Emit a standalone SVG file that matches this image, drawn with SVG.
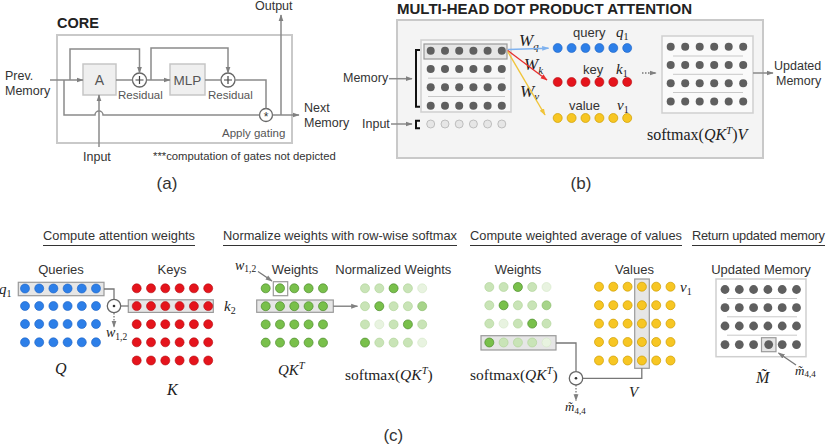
<svg xmlns="http://www.w3.org/2000/svg" width="831" height="447" viewBox="0 0 831 447">
<defs>
<style>
.t{font-family:"Liberation Sans",Arial,sans-serif;fill:#333}
.tb{font-family:"Liberation Sans",Arial,sans-serif;font-weight:bold;fill:#222}
.tg{font-family:"Liberation Sans",Arial,sans-serif;fill:#555}
.m{font-family:"Liberation Serif","Times New Roman",serif;fill:#222}
.i{font-style:italic}
.ln{stroke:#8a8a8a;stroke-width:1.5;fill:none}
.lk{stroke:#777;stroke-width:1.3;fill:none}
.dt{stroke:#777;stroke-width:1.3;fill:none;stroke-dasharray:1.5 1.5}
.box{fill:#efefef;stroke:#c6c6c6;stroke-width:1.5}
.hl{fill:#e6e6e6;stroke:#9a9a9a;stroke-width:1.2}
.hn{fill:none;stroke:#9a9a9a;stroke-width:1.2}
.op{fill:#fff;stroke:#666;stroke-width:1.3}
.dg circle{fill:#5f5f5f}
.di circle{fill:#e6e6e6;stroke:#b3b3b3;stroke-width:0.8}
.db circle{fill:#2d7fe8;stroke:#1b62c4;stroke-width:0.6}
.dr circle{fill:#e5141c;stroke:#b30d12;stroke-width:0.6}
.dy circle{fill:#f7c623;stroke:#cf9e00;stroke-width:0.7}
.g0{fill:#79c04b;stroke:#4e8d2c;stroke-width:0.7}
.g1{fill:#a7d48a;stroke:#86b967;stroke-width:0.6}
.g2{fill:#c9e4b7;stroke:#acd194;stroke-width:0.6}
.g3{fill:#e8f3e0;stroke:#d3e7c6;stroke-width:0.6}
.sep{stroke:#c8c8c8;stroke-width:1}
.ul{stroke:#333;stroke-width:1.2}
</style>
<marker id="ag" viewBox="0 0 10 10" refX="9" refY="5" markerWidth="7" markerHeight="7" markerUnits="userSpaceOnUse" orient="auto"><path d="M0,1.5L10,5L0,8.5z" fill="#808080"/></marker>
<marker id="ab" viewBox="0 0 10 10" refX="9" refY="5" markerWidth="7" markerHeight="7" markerUnits="userSpaceOnUse" orient="auto"><path d="M0,1.5L10,5L0,8.5z" fill="#7fb2ef"/></marker>
<marker id="ar" viewBox="0 0 10 10" refX="9" refY="5" markerWidth="7" markerHeight="7" markerUnits="userSpaceOnUse" orient="auto"><path d="M0,1.5L10,5L0,8.5z" fill="#e8302f"/></marker>
<marker id="ay" viewBox="0 0 10 10" refX="9" refY="5" markerWidth="7" markerHeight="7" markerUnits="userSpaceOnUse" orient="auto"><path d="M0,1.5L10,5L0,8.5z" fill="#f0c43a"/></marker>
</defs>
<rect width="831" height="447" fill="#fff"/>

<!-- ================= Panel (a) ================= -->
<g id="core-panel">
<text class="tb" x="57" y="28" font-size="14.5">CORE</text>
<rect x="57" y="35" width="235" height="108" fill="#fff" stroke="#c9c9c9" stroke-width="2"/>
</g>
<g id="node-A"><rect class="box" x="83" y="64" width="33" height="31"/><text class="tg" x="99.5" y="85" font-size="14" text-anchor="middle">A</text></g>
<g id="node-MLP"><rect class="box" x="170" y="64" width="35" height="31"/><text class="tg" x="187.5" y="85" font-size="13.5" text-anchor="middle">MLP</text></g>
<g id="node-plus1"><circle class="op" cx="139.5" cy="80" r="7"/><path d="M135.5,80H143.5M139.5,76V84" stroke="#444" stroke-width="1.2"/><text class="tg" x="118" y="99" font-size="11.5">Residual</text></g>
<g id="node-plus2"><circle class="op" cx="228" cy="80" r="7"/><path d="M224,80H232M228,76V84" stroke="#444" stroke-width="1.2"/><text class="tg" x="208" y="99" font-size="11.5">Residual</text></g>
<g id="node-gate"><circle class="op" cx="266" cy="115" r="6.5"/><text class="t" x="266" y="121" font-size="12" text-anchor="middle">*</text><text class="tg" x="222" y="137" font-size="11.5">Apply gating</text></g>
<g id="labels-a">
<text class="t" x="5" y="80" font-size="12.5">Prev.</text>
<text class="t" x="5" y="95" font-size="12.5">Memory</text>
<text class="t" x="255" y="10" font-size="12.5">Output</text>
<text class="t" x="304" y="112" font-size="12.5">Next</text>
<text class="t" x="304" y="127" font-size="12.5">Memory</text>
<text class="t" x="83" y="161" font-size="12.5">Input</text>
<text class="t" x="153" y="160" font-size="11.3" fill="#444">***computation of gates not depicted</text>
<text class="t" x="167" y="189" font-size="17" text-anchor="middle">(a)</text>
</g>

<!-- ================= Panel (b) ================= -->
<g id="mhdpa-panel">
<text class="tb" x="397" y="13.5" font-size="14.5" textLength="295" lengthAdjust="spacingAndGlyphs">MULTI-HEAD DOT PRODUCT ATTENTION</text>
<rect x="397" y="20" width="366" height="138" fill="#f4f4f4" stroke="#c9c9c9" stroke-width="2"/>
</g>
<g id="node-memory-matrix">
<rect x="421" y="40" width="90" height="72" fill="#f7f7f7" stroke="#cfcfcf" stroke-width="1.5"/>
<rect class="hl" x="424" y="44" width="83" height="15" fill="#dcdcdc"/>
<line class="sep" x1="428" y1="78.2" x2="505" y2="78.2"/>
<line class="sep" x1="428" y1="96.5" x2="505" y2="96.5"/>
<g class="dg">
<circle cx="430.7" cy="50.7" r="4"/><circle cx="445" cy="50.7" r="4"/><circle cx="459.2" cy="50.7" r="4"/><circle cx="473.4" cy="50.7" r="4"/><circle cx="487.6" cy="50.7" r="4"/><circle cx="501.8" cy="50.7" r="4"/>
<circle cx="430.7" cy="69" r="4"/><circle cx="445" cy="69" r="4"/><circle cx="459.2" cy="69" r="4"/><circle cx="473.4" cy="69" r="4"/><circle cx="487.6" cy="69" r="4"/><circle cx="501.8" cy="69" r="4"/>
<circle cx="430.7" cy="87.3" r="4"/><circle cx="445" cy="87.3" r="4"/><circle cx="459.2" cy="87.3" r="4"/><circle cx="473.4" cy="87.3" r="4"/><circle cx="487.6" cy="87.3" r="4"/><circle cx="501.8" cy="87.3" r="4"/>
<circle cx="430.7" cy="105.7" r="4"/><circle cx="445" cy="105.7" r="4"/><circle cx="459.2" cy="105.7" r="4"/><circle cx="473.4" cy="105.7" r="4"/><circle cx="487.6" cy="105.7" r="4"/><circle cx="501.8" cy="105.7" r="4"/>
</g>
<g class="di">
<circle cx="430.7" cy="124" r="4"/><circle cx="445" cy="124" r="4"/><circle cx="459.2" cy="124" r="4"/><circle cx="473.4" cy="124" r="4"/><circle cx="487.6" cy="124" r="4"/><circle cx="501.8" cy="124" r="4"/>
</g>
<path d="M420,50H416V106.7H420" fill="none" stroke="#111" stroke-width="2"/>
<path d="M420,120.7H416V128.3H420" fill="none" stroke="#111" stroke-width="2"/>
<text class="t" x="343" y="82" font-size="12.5">Memory</text>
<text class="t" x="362" y="127.5" font-size="12.5">Input</text>
</g>
<g id="node-qkv">
<g class="db"><circle cx="557.7" cy="48" r="4.5"/><circle cx="571.6" cy="48" r="4.5"/><circle cx="585.5" cy="48" r="4.5"/><circle cx="599.4" cy="48" r="4.5"/><circle cx="613.3" cy="48" r="4.5"/><circle cx="627.2" cy="48" r="4.5"/></g>
<g class="dr"><circle cx="557.7" cy="82" r="4.5"/><circle cx="571.6" cy="82" r="4.5"/><circle cx="585.5" cy="82" r="4.5"/><circle cx="599.4" cy="82" r="4.5"/><circle cx="613.3" cy="82" r="4.5"/><circle cx="627.2" cy="82" r="4.5"/></g>
<g class="dy"><circle cx="557.7" cy="118" r="4.5"/><circle cx="571.6" cy="118" r="4.5"/><circle cx="585.5" cy="118" r="4.5"/><circle cx="599.4" cy="118" r="4.5"/><circle cx="613.3" cy="118" r="4.5"/><circle cx="627.2" cy="118" r="4.5"/></g>
<text class="t" x="573" y="37" font-size="13">query</text>
<text class="t" x="583" y="74" font-size="13">key</text>
<text class="t" x="569" y="110" font-size="13">value</text>
<text class="m i" x="616" y="37" font-size="15">q<tspan font-size="10" dy="3" font-style="normal">1</tspan></text>
<text class="m i" x="616" y="74" font-size="15">k<tspan font-size="10" dy="3" font-style="normal">1</tspan></text>
<text class="m i" x="617" y="110" font-size="15">v<tspan font-size="10" dy="3" font-style="normal">1</tspan></text>
<text class="m i" x="519" y="46" font-size="17">W<tspan font-size="11" dy="3.5">q</tspan></text>
<text class="m i" x="524" y="70" font-size="17">W<tspan font-size="11" dy="3.5">k</tspan></text>
<text class="m i" x="520" y="96.5" font-size="17">W<tspan font-size="11" dy="3.5">v</tspan></text>
</g>
<g id="node-updated-b">
<rect x="662" y="36" width="91" height="77" fill="#fafafa" stroke="#cfcfcf" stroke-width="1.5"/>
<line class="sep" x1="673" y1="56" x2="743" y2="56"/>
<line class="sep" x1="673" y1="74.3" x2="743" y2="74.3"/>
<line class="sep" x1="673" y1="92.5" x2="743" y2="92.5"/>
<g class="dg">
<circle cx="670.7" cy="46.7" r="4"/><circle cx="685.2" cy="46.7" r="4"/><circle cx="699.7" cy="46.7" r="4"/><circle cx="714.2" cy="46.7" r="4"/><circle cx="728.7" cy="46.7" r="4"/><circle cx="743.2" cy="46.7" r="4"/>
<circle cx="670.7" cy="65" r="4"/><circle cx="685.2" cy="65" r="4"/><circle cx="699.7" cy="65" r="4"/><circle cx="714.2" cy="65" r="4"/><circle cx="728.7" cy="65" r="4"/><circle cx="743.2" cy="65" r="4"/>
<circle cx="670.7" cy="83.3" r="4"/><circle cx="685.2" cy="83.3" r="4"/><circle cx="699.7" cy="83.3" r="4"/><circle cx="714.2" cy="83.3" r="4"/><circle cx="728.7" cy="83.3" r="4"/><circle cx="743.2" cy="83.3" r="4"/>
<circle cx="670.7" cy="101.6" r="4"/><circle cx="685.2" cy="101.6" r="4"/><circle cx="699.7" cy="101.6" r="4"/><circle cx="714.2" cy="101.6" r="4"/><circle cx="728.7" cy="101.6" r="4"/><circle cx="743.2" cy="101.6" r="4"/>
</g>
<text class="m" x="647" y="140" font-size="16">softmax(<tspan class="i">QK</tspan><tspan class="i" font-size="11" dy="-6">T</tspan><tspan dy="6">)</tspan><tspan class="i">V</tspan></text>
<text class="t" x="774" y="70" font-size="12.5">Updated</text>
<text class="t" x="776" y="85" font-size="12.5">Memory</text>
<text class="t" x="581" y="189" font-size="17" text-anchor="middle">(b)</text>
</g>

<!-- ================= Panel (c) ================= -->
<g id="sec-attention-weights">
<text class="t" x="43" y="240" font-size="12.8" textLength="152">Compute attention weights</text>
<line class="ul" x1="43" y1="245.5" x2="195" y2="245.5"/>
<text class="t" x="61" y="273.5" font-size="13" text-anchor="middle">Queries</text>
<text class="t" x="172" y="273.5" font-size="13" text-anchor="middle">Keys</text>
<rect class="hl" x="18.3" y="282.3" width="85.7" height="13.4"/>
<rect class="hl" x="128.3" y="299.8" width="85" height="12.6"/>
<g class="db">
<circle cx="25" cy="288.5" r="4.5"/><circle cx="39.2" cy="288.5" r="4.5"/><circle cx="53.4" cy="288.5" r="4.5"/><circle cx="67.6" cy="288.5" r="4.5"/><circle cx="81.8" cy="288.5" r="4.5"/><circle cx="96" cy="288.5" r="4.5"/>
<circle cx="25" cy="306" r="4.5"/><circle cx="39.2" cy="306" r="4.5"/><circle cx="53.4" cy="306" r="4.5"/><circle cx="67.6" cy="306" r="4.5"/><circle cx="81.8" cy="306" r="4.5"/><circle cx="96" cy="306" r="4.5"/>
<circle cx="25" cy="324" r="4.5"/><circle cx="39.2" cy="324" r="4.5"/><circle cx="53.4" cy="324" r="4.5"/><circle cx="67.6" cy="324" r="4.5"/><circle cx="81.8" cy="324" r="4.5"/><circle cx="96" cy="324" r="4.5"/>
<circle cx="25" cy="342.3" r="4.5"/><circle cx="39.2" cy="342.3" r="4.5"/><circle cx="53.4" cy="342.3" r="4.5"/><circle cx="67.6" cy="342.3" r="4.5"/><circle cx="81.8" cy="342.3" r="4.5"/><circle cx="96" cy="342.3" r="4.5"/>
</g>
<g class="dr">
<circle cx="136.7" cy="288.3" r="4.5"/><circle cx="151" cy="288.3" r="4.5"/><circle cx="165.3" cy="288.3" r="4.5"/><circle cx="179.6" cy="288.3" r="4.5"/><circle cx="193.9" cy="288.3" r="4.5"/><circle cx="208.2" cy="288.3" r="4.5"/>
<circle cx="136.7" cy="306.1" r="4.5"/><circle cx="151" cy="306.1" r="4.5"/><circle cx="165.3" cy="306.1" r="4.5"/><circle cx="179.6" cy="306.1" r="4.5"/><circle cx="193.9" cy="306.1" r="4.5"/><circle cx="208.2" cy="306.1" r="4.5"/>
<circle cx="136.7" cy="324.2" r="4.5"/><circle cx="151" cy="324.2" r="4.5"/><circle cx="165.3" cy="324.2" r="4.5"/><circle cx="179.6" cy="324.2" r="4.5"/><circle cx="193.9" cy="324.2" r="4.5"/><circle cx="208.2" cy="324.2" r="4.5"/>
<circle cx="136.7" cy="342.3" r="4.5"/><circle cx="151" cy="342.3" r="4.5"/><circle cx="165.3" cy="342.3" r="4.5"/><circle cx="179.6" cy="342.3" r="4.5"/><circle cx="193.9" cy="342.3" r="4.5"/><circle cx="208.2" cy="342.3" r="4.5"/>
<circle cx="136.7" cy="360.5" r="4.5"/><circle cx="151" cy="360.5" r="4.5"/><circle cx="165.3" cy="360.5" r="4.5"/><circle cx="179.6" cy="360.5" r="4.5"/><circle cx="193.9" cy="360.5" r="4.5"/><circle cx="208.2" cy="360.5" r="4.5"/>
</g>
<circle class="op" cx="114" cy="306" r="6.7"/><circle cx="114" cy="306" r="1.3" fill="#333"/>
<text class="m i" x="-1" y="294" font-size="15">q<tspan font-size="10" dy="3" font-style="normal">1</tspan></text>
<text class="m i" x="224" y="311" font-size="15">k<tspan font-size="10" dy="3" font-style="normal">2</tspan></text>
<text class="m i" x="106" y="337" font-size="14">w<tspan font-size="9.5" dy="2.5" font-style="normal">1,2</tspan></text>
<text class="m i" x="55" y="374" font-size="16">Q</text>
<text class="m i" x="167" y="395" font-size="16">K</text>
</g>

<g id="sec-normalize">
<text class="t" x="223" y="240" font-size="12.8" textLength="234">Normalize weights with row-wise softmax</text>
<line class="ul" x1="223" y1="245.5" x2="457" y2="245.5"/>
<text class="t" x="295" y="273.5" font-size="13" text-anchor="middle">Weights</text>
<text class="t" x="393.3" y="273.5" font-size="13" text-anchor="middle">Normalized Weights</text>
<text class="m i" x="235" y="269.5" font-size="14">w<tspan font-size="9.5" dy="2.5" font-style="normal">1,2</tspan></text>
<rect class="hl" x="256.7" y="300" width="76.6" height="12.3"/>
<rect class="hn" x="273.3" y="281.7" width="14.4" height="14"/>
<g>
<circle class="g0" cx="265.7" cy="288.3" r="4.5"/><circle class="g0" cx="280" cy="288.3" r="4.5"/><circle class="g0" cx="294.3" cy="288.3" r="4.5"/><circle class="g0" cx="308.6" cy="288.3" r="4.5"/><circle class="g0" cx="323" cy="288.3" r="4.5"/>
<circle class="g0" cx="265.7" cy="306.2" r="4.5"/><circle class="g0" cx="280" cy="306.2" r="4.5"/><circle class="g0" cx="294.3" cy="306.2" r="4.5"/><circle class="g0" cx="308.6" cy="306.2" r="4.5"/><circle class="g0" cx="323" cy="306.2" r="4.5"/>
<circle class="g0" cx="265.7" cy="324.4" r="4.5"/><circle class="g0" cx="280" cy="324.4" r="4.5"/><circle class="g0" cx="294.3" cy="324.4" r="4.5"/><circle class="g0" cx="308.6" cy="324.4" r="4.5"/><circle class="g0" cx="323" cy="324.4" r="4.5"/>
<circle class="g0" cx="265.7" cy="342.6" r="4.5"/><circle class="g0" cx="280" cy="342.6" r="4.5"/><circle class="g0" cx="294.3" cy="342.6" r="4.5"/><circle class="g0" cx="308.6" cy="342.6" r="4.5"/><circle class="g0" cx="323" cy="342.6" r="4.5"/>
</g>
<g>
<circle class="g2" cx="365" cy="288.3" r="4.5"/><circle class="g2" cx="379.3" cy="288.3" r="4.5"/><circle class="g0" cx="393.6" cy="288.3" r="4.5"/><circle class="g2" cx="407.9" cy="288.3" r="4.5"/><circle class="g3" cx="422.2" cy="288.3" r="4.5"/>
<circle class="g2" cx="365" cy="306.2" r="4.5"/><circle class="g0" cx="379.3" cy="306.2" r="4.5"/><circle class="g2" cx="393.6" cy="306.2" r="4.5"/><circle class="g2" cx="407.9" cy="306.2" r="4.5"/><circle class="g1" cx="422.2" cy="306.2" r="4.5"/>
<circle class="g2" cx="365" cy="324.4" r="4.5"/><circle class="g3" cx="379.3" cy="324.4" r="4.5"/><circle class="g2" cx="393.6" cy="324.4" r="4.5"/><circle class="g0" cx="407.9" cy="324.4" r="4.5"/><circle class="g2" cx="422.2" cy="324.4" r="4.5"/>
<circle class="g0" cx="365" cy="342.6" r="4.5"/><circle class="g2" cx="379.3" cy="342.6" r="4.5"/><circle class="g2" cx="393.6" cy="342.6" r="4.5"/><circle class="g2" cx="407.9" cy="342.6" r="4.5"/><circle class="g3" cx="422.2" cy="342.6" r="4.5"/>
</g>
<text class="m" x="278" y="375" font-size="15"><tspan class="i">QK</tspan><tspan class="i" font-size="10.5" dy="-6">T</tspan></text>
<text class="m" x="345" y="380" font-size="15.5">softmax(<tspan class="i">QK</tspan><tspan class="i" font-size="10.5" dy="-6">T</tspan><tspan dy="6">)</tspan></text>
</g>

<g id="sec-weighted-average">
<text class="t" x="470" y="240" font-size="12.8" textLength="212">Compute weighted average of values</text>
<line class="ul" x1="470" y1="245.5" x2="682" y2="245.5"/>
<text class="t" x="518" y="273.5" font-size="13" text-anchor="middle">Weights</text>
<text class="t" x="634.5" y="273.5" font-size="13" text-anchor="middle">Values</text>
<rect class="hl" x="481" y="335.7" width="75" height="14.3"/>
<rect class="hl" x="634.7" y="279" width="14.6" height="89.3"/>
<g>
<circle class="g2" cx="489.3" cy="287" r="4.5"/><circle class="g2" cx="503.6" cy="287" r="4.5"/><circle class="g0" cx="517.9" cy="287" r="4.5"/><circle class="g2" cx="532.2" cy="287" r="4.5"/><circle class="g3" cx="546.5" cy="287" r="4.5"/>
<circle class="g2" cx="489.3" cy="305.3" r="4.5"/><circle class="g0" cx="503.6" cy="305.3" r="4.5"/><circle class="g2" cx="517.9" cy="305.3" r="4.5"/><circle class="g2" cx="532.2" cy="305.3" r="4.5"/><circle class="g1" cx="546.5" cy="305.3" r="4.5"/>
<circle class="g2" cx="489.3" cy="323.6" r="4.5"/><circle class="g3" cx="503.6" cy="323.6" r="4.5"/><circle class="g2" cx="517.9" cy="323.6" r="4.5"/><circle class="g0" cx="532.2" cy="323.6" r="4.5"/><circle class="g2" cx="546.5" cy="323.6" r="4.5"/>
<circle class="g0" cx="489.3" cy="342.5" r="4.5"/><circle class="g2" cx="503.6" cy="342.5" r="4.5"/><circle class="g2" cx="517.9" cy="342.5" r="4.5"/><circle class="g2" cx="532.2" cy="342.5" r="4.5"/><circle class="g3" cx="546.5" cy="342.5" r="4.5"/>
</g>
<g class="dy">
<circle cx="599" cy="286.7" r="4.5"/><circle cx="613.3" cy="286.7" r="4.5"/><circle cx="627.6" cy="286.7" r="4.5"/><circle cx="641.9" cy="286.7" r="4.5"/><circle cx="656.2" cy="286.7" r="4.5"/><circle cx="670.5" cy="286.7" r="4.5"/>
<circle cx="599" cy="305.2" r="4.5"/><circle cx="613.3" cy="305.2" r="4.5"/><circle cx="627.6" cy="305.2" r="4.5"/><circle cx="641.9" cy="305.2" r="4.5"/><circle cx="656.2" cy="305.2" r="4.5"/><circle cx="670.5" cy="305.2" r="4.5"/>
<circle cx="599" cy="323.6" r="4.5"/><circle cx="613.3" cy="323.6" r="4.5"/><circle cx="627.6" cy="323.6" r="4.5"/><circle cx="641.9" cy="323.6" r="4.5"/><circle cx="656.2" cy="323.6" r="4.5"/><circle cx="670.5" cy="323.6" r="4.5"/>
<circle cx="599" cy="342" r="4.5"/><circle cx="613.3" cy="342" r="4.5"/><circle cx="627.6" cy="342" r="4.5"/><circle cx="641.9" cy="342" r="4.5"/><circle cx="656.2" cy="342" r="4.5"/><circle cx="670.5" cy="342" r="4.5"/>
<circle cx="599" cy="360.5" r="4.5"/><circle cx="613.3" cy="360.5" r="4.5"/><circle cx="627.6" cy="360.5" r="4.5"/><circle cx="641.9" cy="360.5" r="4.5"/><circle cx="656.2" cy="360.5" r="4.5"/><circle cx="670.5" cy="360.5" r="4.5"/>
</g>
<circle class="op" cx="576" cy="378.3" r="6.7"/><circle cx="576" cy="378.3" r="1.3" fill="#333"/>
<text class="m" x="470" y="380" font-size="15.5">softmax(<tspan class="i">QK</tspan><tspan class="i" font-size="10.5" dy="-6">T</tspan><tspan dy="6">)</tspan></text>
<text class="m i" x="680" y="292" font-size="15">v<tspan font-size="10" dy="3" font-style="normal">1</tspan></text>
<text class="m i" x="629" y="397" font-size="15">V</text>
<text class="m i" x="565" y="411" font-size="13">m&#x303;<tspan font-size="9" dy="2.5" font-style="normal">4,4</tspan></text>
</g>

<g id="sec-return-memory">
<text class="t" x="692" y="240" font-size="12.8" textLength="133">Return updated memory</text>
<line class="ul" x1="692" y1="245.5" x2="825" y2="245.5"/>
<text class="t" x="761" y="273.5" font-size="13" text-anchor="middle">Updated Memory</text>
<rect x="716" y="279" width="90" height="77.7" fill="#fff" stroke="#cfcfcf" stroke-width="1.5"/>
<line class="sep" x1="727" y1="298.5" x2="797" y2="298.5"/>
<line class="sep" x1="727" y1="316.8" x2="797" y2="316.8"/>
<line class="sep" x1="727" y1="335.2" x2="797" y2="335.2"/>
<rect class="hl" x="761.5" y="337.7" width="14.5" height="14"/>
<g class="dg">
<circle cx="725" cy="289.5" r="4.4"/><circle cx="739.3" cy="289.5" r="4.4"/><circle cx="753.6" cy="289.5" r="4.4"/><circle cx="767.9" cy="289.5" r="4.4"/><circle cx="782.2" cy="289.5" r="4.4"/><circle cx="796.5" cy="289.5" r="4.4"/>
<circle cx="725" cy="307.7" r="4.4"/><circle cx="739.3" cy="307.7" r="4.4"/><circle cx="753.6" cy="307.7" r="4.4"/><circle cx="767.9" cy="307.7" r="4.4"/><circle cx="782.2" cy="307.7" r="4.4"/><circle cx="796.5" cy="307.7" r="4.4"/>
<circle cx="725" cy="326" r="4.4"/><circle cx="739.3" cy="326" r="4.4"/><circle cx="753.6" cy="326" r="4.4"/><circle cx="767.9" cy="326" r="4.4"/><circle cx="782.2" cy="326" r="4.4"/><circle cx="796.5" cy="326" r="4.4"/>
<circle cx="725" cy="344.6" r="4.4"/><circle cx="739.3" cy="344.6" r="4.4"/><circle cx="753.6" cy="344.6" r="4.4"/><circle cx="768.7" cy="344.6" r="4.4"/><circle cx="782.2" cy="344.6" r="4.4"/><circle cx="796.5" cy="344.6" r="4.4"/>
</g>
<text class="m i" x="756" y="383" font-size="16">M&#x303;</text>
<text class="m i" x="795" y="374.5" font-size="13">m&#x303;<tspan font-size="9" dy="2.5" font-style="normal">4,4</tspan></text>
<text class="t" x="393.3" y="441" font-size="17" text-anchor="middle">(c)</text>
</g>

<!-- ================= Connectors ================= -->
<g id="connectors">
<path class="ln" d="M50,80H83" marker-end="url(#ag)"/>
<path class="ln" d="M70,80V49H139.5V73" marker-end="url(#ag)"/>
<path class="ln" d="M64,80V115H95A4,4 0 0 1 103,115H259.5"/>
<path class="ln" d="M116,80H132.5"/>
<path class="ln" d="M146.5,80H170" marker-end="url(#ag)"/>
<path class="ln" d="M151,80V48H228V73" marker-end="url(#ag)"/>
<path class="ln" d="M205,80H221"/>
<path class="ln" d="M235,80H266V108.5"/>
<path class="ln" d="M272.5,115H299" marker-end="url(#ag)"/>
<path class="ln" d="M281,115V15" marker-end="url(#ag)"/>
<path class="ln" d="M99,147V95" marker-end="url(#ag)"/>
<path class="ln" d="M389,78.7H412" marker-end="url(#ag)"/>
<path class="ln" d="M391,124H412" marker-end="url(#ag)"/>
<path d="M507.7,49.5L548.5,48.2" stroke="#7fb2ef" stroke-width="1.4" fill="none" marker-end="url(#ab)"/>
<path d="M507.7,50.5L547,80" stroke="#e8302f" stroke-width="1.4" fill="none" marker-end="url(#ar)"/>
<path d="M507.7,51.5L545,115" stroke="#f0c43a" stroke-width="1.4" fill="none" marker-end="url(#ay)"/>
<path class="dt" d="M642,73H656" marker-end="url(#ag)"/>
<path class="ln" d="M753,73H773" marker-end="url(#ag)"/>
<path class="lk" d="M104,289H114V299.3"/>
<path class="lk" d="M120.7,306H128.3"/>
<path class="dt" d="M114,313V327" marker-end="url(#ag)"/>
<path class="lk" d="M258,271.5L272,281" marker-end="url(#ag)"/>
<path class="lk" d="M333.3,306.2H357.5" marker-end="url(#ag)"/>
<path class="lk" d="M556,343H576V371.6"/>
<path class="lk" d="M582.7,378.3H641.8V368.3"/>
<path class="dt" d="M576,385V400.5" marker-end="url(#ag)"/>
<path class="lk" d="M796,365L778.5,353" marker-end="url(#ag)"/>
</g>
</svg>
